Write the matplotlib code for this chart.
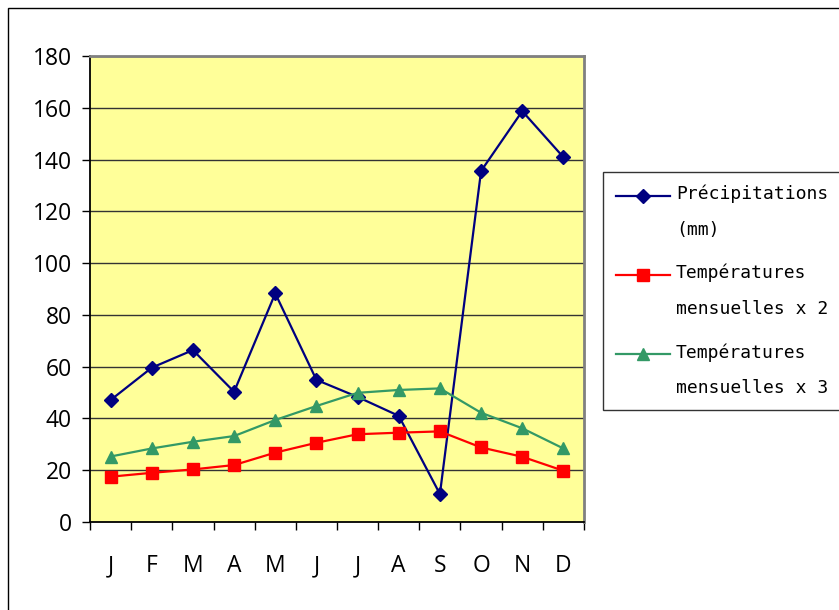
import matplotlib
matplotlib.use("Agg")
import numpy as np
import matplotlib.pyplot as plt
from matplotlib.patches import Rectangle
from matplotlib.ticker import FixedLocator, NullFormatter
from matplotlib.legend_handler import HandlerLine2D

months = ["J", "F", "M", "A", "M", "J", "J", "A", "S", "O", "N", "D"]
precip = [47.1, 59.6, 66.4, 50.3, 88.3, 54.9, 48.3, 41.0, 10.8, 135.6, 158.7, 140.9]
temp_x2 = [17.5, 19.0, 20.3, 22.0, 26.8, 30.6, 33.9, 34.5, 35.0, 28.8, 25.2, 19.8]
temp_x3 = [25.3, 28.4, 31.0, 33.2, 39.4, 44.8, 49.9, 51.0, 51.6, 42.2, 36.2, 28.4]
labels = ["Précipitations\n(mm)", "Températures\nmensuelles x 2", "Températures\nmensuelles x 3"]
yticks = [0, 20, 40, 60, 80, 100, 120, 140, 160, 180]


class FirstLineHandler(HandlerLine2D):
    """Place the legend handle level with the first line of a two-line label."""
    def __init__(self, dy, **kw):
        super().__init__(**kw)
        self.dy = dy

    def create_artists(self, legend, orig_handle, xdescent, ydescent, width, height,
                       fontsize, trans):
        arts = super().create_artists(legend, orig_handle, xdescent, ydescent, width,
                                      height, fontsize, trans)
        for a in arts:
            a.set_ydata(np.asarray(a.get_ydata(), dtype=float) + self.dy)
        return arts


W, H = 839, 610
fig = plt.figure(figsize=(W / 100, H / 100), dpi=100)
fig.patch.set_facecolor("white")

# outer chart frame
fig.add_artist(Rectangle((8 / W, -0.1), 1.2, 1 - 8 / H + 0.1, transform=fig.transFigure,
                         fill=False, edgecolor="black", linewidth=1.0))

ax = fig.add_axes([90 / W, 1 - 522 / H, (584 - 90) / W, (522 - 56) / H])
ax.set_facecolor("#FFFF99")

x = list(range(len(months)))
ax.set_xlim(-0.5, len(months) - 0.5)
ax.set_ylim(0, 180)

for v in yticks[1:]:
    ax.axhline(v, color="#333333", linewidth=1.0, zorder=1)

l1, = ax.plot(x, precip, color="#000080", linewidth=1.6, marker="D", markersize=7,
              markerfacecolor="#000080", markeredgecolor="#000080", zorder=3)
l2, = ax.plot(x, temp_x2, color="#FF0000", linewidth=1.6, marker="s", markersize=8,
              markerfacecolor="#FF0000", markeredgecolor="#FF0000", zorder=3)
l3, = ax.plot(x, temp_x3, color="#339966", linewidth=1.6, marker="^", markersize=9,
              markerfacecolor="#339966", markeredgecolor="#339966", zorder=3)

ax.spines["top"].set_color("#808080")
ax.spines["top"].set_linewidth(2)
ax.spines["right"].set_color("#808080")
ax.spines["right"].set_linewidth(2)
ax.spines["left"].set_color("black")
ax.spines["left"].set_linewidth(1.3)
ax.spines["bottom"].set_color("black")
ax.spines["bottom"].set_linewidth(1.3)

ax.set_yticks(yticks)
ax.set_yticklabels([str(v) for v in yticks], fontsize=16.5, family="Open Sans")
ax.tick_params(axis="y", direction="out", length=6, width=1, pad=7, color="black")

ax.set_xticks(x)
ax.set_xticklabels(months, fontsize=16.5, family="Open Sans")
ax.tick_params(axis="x", which="major", length=0, pad=23)
ax.xaxis.set_minor_locator(FixedLocator([i - 0.5 for i in range(len(months) + 1)]))
ax.xaxis.set_minor_formatter(NullFormatter())
ax.tick_params(axis="x", which="minor", direction="out", length=6, width=1, color="black")

hmap = {h: FirstLineHandler(12.0) for h in (l1, l2, l3)}
leg = fig.legend([l1, l2, l3], labels, loc="upper left",
                 bbox_to_anchor=(603 / W, 1 - 406 / H, 260 / W, (406 - 172) / H),
                 bbox_transform=fig.transFigure, mode="expand",
                 prop={"family": "DejaVu Sans Mono", "size": 13},
                 frameon=True, fancybox=False, edgecolor="black",
                 handlelength=3.0, handletextpad=0.35, labelspacing=1.4,
                 borderpad=0.7, borderaxespad=0, handler_map=hmap)
leg.get_frame().set_linewidth(1.0)
for t in leg.get_texts():
    t.set_linespacing(2.25)

fig.savefig("out.png", dpi=100)
